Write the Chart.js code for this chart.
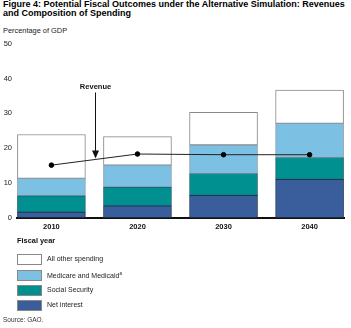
<!DOCTYPE html>
<html>
<head>
<meta charset="utf-8">
<script src="https://cdn.jsdelivr.net/npm/chart.js@4/dist/chart.umd.min.js"></script>
<style>
  html,body{margin:0;padding:0;background:#fff;width:351px;height:328px;overflow:hidden;font-family:"Liberation Sans",Arial,sans-serif;color:#000;}
  #wrap{position:relative;width:351px;height:328px;}
  #title{position:absolute;left:3px;top:0px;font-weight:bold;font-size:9px;line-height:9.4px;white-space:nowrap;}
  #ylab{position:absolute;left:3px;top:26px;font-size:7.4px;color:#222;white-space:nowrap;}
  #xlab{position:absolute;left:17px;top:236px;font-size:7.4px;font-weight:bold;color:#111;white-space:nowrap;}
  canvas{position:absolute;left:0;top:0;}
  .leg{position:absolute;left:17px;height:15px;font-size:7px;color:#222;white-space:nowrap;}
  .leg span.box{position:absolute;left:0;top:0;width:23px;height:9px;border:1px solid #888;}
  .leg span.t{position:absolute;left:30px;top:1px;}
  #src{position:absolute;left:3px;top:316px;font-size:6.5px;color:#333;white-space:nowrap;}
</style>
</head>
<body>
<div id="wrap">
  <div id="title">Figure 4: Potential Fiscal Outcomes under the Alternative Simulation: Revenues<br>and Composition of Spending</div>
  <div id="ylab">Percentage of GDP</div>
  <canvas id="c" width="351" height="250"></canvas>
  <div id="xlab">Fiscal year</div>
  <div id="legend"></div>
  <div id="src">Source: GAO.</div>
</div>
<script>
// ---- data ----
const years = [2010, 2020, 2030, 2040];
const netInterest = [1.6, 3.4, 6.4, 11.0];
const socialSecurity = [4.7, 5.4, 6.3, 6.3];
const medicareMedicaid = [5.0, 6.3, 8.2, 9.8];
const allOtherSpending = [12.6, 8.2, 9.4, 9.6];
const revenue = [15.1, 18.3, 18.1, 18.1];
const yTicks = [0, 10, 20, 30, 40, 50];
const seriesNames = ["All other spending", "Medicare and Medicaid", "Social Security", "Net interest"];

// ---- styling ----
const colNI = '#3a5e9c', colSS = '#009090', colMM = '#7cc0e4', colOther = '#ffffff';
const annot = { label: 'Revenue', x: 2015.1, textY: 37.7, tipY: 17.0 };

function pts(vals){ return years.map((y,i)=>({x:y, y:vals[i]})); }

const arrowPlugin = {
  id: 'arrow',
  afterDatasetsDraw(chart){
    const {ctx, scales:{x, y}} = chart;
    const px = Math.round(x.getPixelForValue(annot.x)) + 0.5;
    const ty = y.getPixelForValue(annot.textY);
    const tip = y.getPixelForValue(annot.tipY);
    ctx.save();
    ctx.fillStyle = '#111';
    ctx.font = 'bold 7.5px "Liberation Sans", Arial, sans-serif';
    ctx.textAlign = 'center';
    ctx.textBaseline = 'middle';
    ctx.fillText(annot.label, px, ty);
    ctx.strokeStyle = '#111';
    ctx.lineWidth = 1;
    ctx.beginPath();
    ctx.moveTo(px, ty + 6);
    ctx.lineTo(px, tip - 7);
    ctx.stroke();
    ctx.beginPath();
    ctx.moveTo(px - 3.5, tip - 8);
    ctx.lineTo(px + 3.5, tip - 8);
    ctx.lineTo(px, tip);
    ctx.closePath();
    ctx.fill();
    ctx.restore();
  }
};

const barBase = { type: 'bar', barThickness: 68, borderWidth: 1, borderSkipped: false, order: 2 };

new Chart(document.getElementById('c'), {
  data: {
    datasets: [
      Object.assign({}, barBase, { label: seriesNames[3], data: pts(netInterest), backgroundColor: colNI, borderColor: '#1f3553' }),
      Object.assign({}, barBase, { label: seriesNames[2], data: pts(socialSecurity), backgroundColor: colSS, borderColor: '#1d5f6a' }),
      Object.assign({}, barBase, { label: seriesNames[1], data: pts(medicareMedicaid), backgroundColor: colMM, borderColor: '#8a9aa6' }),
      Object.assign({}, barBase, { label: seriesNames[0], data: pts(allOtherSpending), backgroundColor: colOther, borderColor: '#8a8a8a' }),
      { type: 'line', label: 'Revenue', data: pts(revenue), borderColor: '#222', borderWidth: 1, pointRadius: 2.3,
        pointBackgroundColor: '#000', pointBorderColor: '#000', pointHoverRadius: 2.3, stack: 'rev', yAxisID: 'y', order: 1, tension: 0 }
    ]
  },
  options: {
    responsive: false,
    animation: false,
    events: [],
    layout: { padding: { top: 43.7, right: 7, bottom: 0, left: 0 } },
    plugins: { legend: { display: false }, tooltip: { enabled: false } },
    scales: {
      x: {
        type: 'linear', min: 2006, max: 2044, stacked: true, offset: false,
        afterBuildTicks: s => { s.ticks = years.map(v => ({ value: v })); },
        afterFit: s => { s.height = 32.3; },
        grid: { display: false, drawTicks: false, offset: false },
        border: { display: true, color: '#111', width: 2 },
        ticks: { padding: 5, color: '#111', font: { family: '"Liberation Sans", Arial, sans-serif', size: 7.5, weight: 'bold' }, callback: v => String(v), maxRotation: 0, autoSkip: false }
      },
      y: {
        min: 0, max: 50, stacked: true,
        afterBuildTicks: s => { s.ticks = yTicks.map(v => ({ value: v })); },
        afterFit: s => { s.width = 17; },
        grid: { display: false, drawTicks: false },
        border: { display: false },
        ticks: { padding: 5, color: '#222', font: { family: '"Liberation Sans", Arial, sans-serif', size: 7.5 } }
      }
    }
  },
  plugins: [arrowPlugin]
});

// legend (HTML)
const legCols = [colOther, colMM, colSS, colNI];
const legTops = [254, 269.5, 284.7, 300];
const legHtml = seriesNames.map((n,i) => {
  const label = i === 1 ? n + '<sup style="font-size:4.5px">a</sup>' : n;
  return `<div class="leg" style="top:${legTops[i]}px"><span class="box" style="background:${legCols[i]}"></span><span class="t">${label}</span></div>`;
}).join('');
document.getElementById('legend').innerHTML = legHtml;
</script>
</body>
</html>
